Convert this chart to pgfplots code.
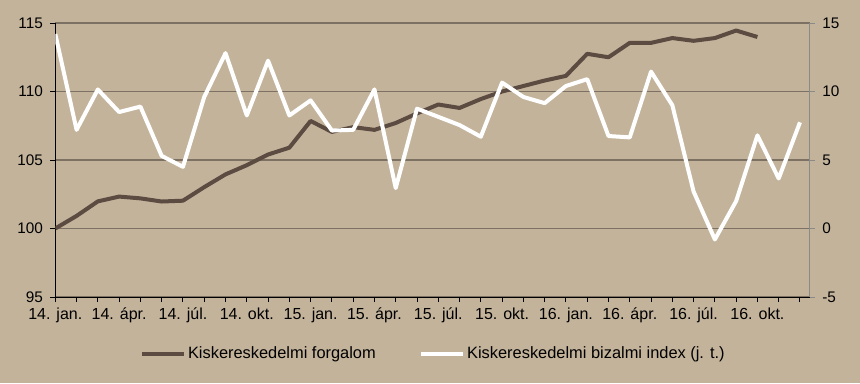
\documentclass[border=0pt]{standalone}
\usepackage{pgfplots}
\pgfplotsset{compat=1.18}
\usepackage{fontspec}
\setmainfont{Liberation Sans}
\definecolor{bgc}{HTML}{C3B39B}
\definecolor{brn}{HTML}{5B4B41}
\definecolor{gridc}{HTML}{7C7162}
\definecolor{raxc}{HTML}{8A8A8A}
\begin{document}
\begin{tikzpicture}
\fill[bgc] (0pt,0pt) rectangle (645pt,287.25pt);
\path[use as bounding box] (0pt,0pt) rectangle (645pt,287.25pt);
\pgfplotsset{
  common/.style={
    at={(41.475pt,64.5pt)}, anchor=south west, scale only axis,
    width=566pt, height=205.5pt,
    xmin=0, xmax=35.47,
    tick align=outside,
    major tick length=3.75pt, minor tick length=3.75pt,
    /pgf/number format/assume math mode=true,
    tick label style={font=\fontsize{11.5}{13}\selectfont},
  }
}
\begin{axis}[common,
  ymin=95, ymax=115, ytick={95,100,...,115},
  axis x line*=bottom, axis y line*=left,
  axis line style={black, line width=0.75pt},
  ymajorgrids, grid style={gridc, line width=0.9pt},
  xtick={0,3,...,33},
  xticklabels={14. jan.,14. ápr.,14. júl.,14. okt.,15. jan.,15. ápr.,15. júl.,15. okt.,16. jan.,16. ápr.,16. júl.,16. okt.},
  minor xtick={0,1,...,35},
  tick style={black, line width=0.75pt},
  x tick label style={font=\fontsize{12}{14}\selectfont, yshift=-1pt},
  y tick label style={xshift=-2pt},
]
\addplot[brn, line width=3pt, line join=round] coordinates {
(0,100.0) (1,100.92) (2,101.98) (3,102.33) (4,102.2) (5,101.97) (6,102.03)
(7,103.02) (8,103.95) (9,104.62) (10,105.4) (11,105.9) (12,107.85) (13,107.05)
(14,107.4) (15,107.2) (16,107.7) (17,108.4) (18,109.05) (19,108.8) (20,109.45)
(21,110.0) (22,110.4) (23,110.8) (24,111.14) (25,112.75) (26,112.5) (27,113.55)
(28,113.55) (29,113.9) (30,113.7) (31,113.9) (32,114.45) (33,113.98)
};
\end{axis}
\begin{axis}[common,
  ymin=-5, ymax=15, ytick={-5,0,...,15},
  axis x line=none, axis y line*=right,
  axis line style={raxc, line width=0.75pt},
  tick style={raxc, line width=0.75pt},
  y tick label style={xshift=2pt},
  legend columns=2,
  legend style={at={(0.501,-0.208)}, anchor=center, draw=none, fill=none,
    font=\fontsize{12.3}{14}\selectfont,
    /tikz/every even column/.append style={column sep=31pt},
    nodes={inner sep=1.5pt}},
  legend image code/.code={\draw[#1] (0pt,0pt) -- (31.5pt,0pt);},
]
\addlegendimage{brn, line width=3pt}
\addlegendentry{Kiskereskedelmi forgalom}
\addplot[white, line width=3pt, line join=round] coordinates {
(0,14.2) (1,7.2) (2,10.15) (3,8.5) (4,8.9) (5,5.3) (6,4.5) (7,9.6) (8,12.8)
(9,8.25) (10,12.25) (11,8.25) (12,9.35) (13,7.15) (14,7.2) (15,10.15) (16,2.95)
(17,8.75) (18,8.15) (19,7.55) (20,6.7) (21,10.65) (22,9.6) (23,9.15) (24,10.4)
(25,10.9) (26,6.75) (27,6.65) (28,11.45) (29,9.0) (30,2.7) (31,-0.8) (32,2.0)
(33,6.8) (34,3.65) (35,7.75)
};
\addlegendentry{Kiskereskedelmi bizalmi index (j. t.)}
\end{axis}
\end{tikzpicture}
\end{document}
